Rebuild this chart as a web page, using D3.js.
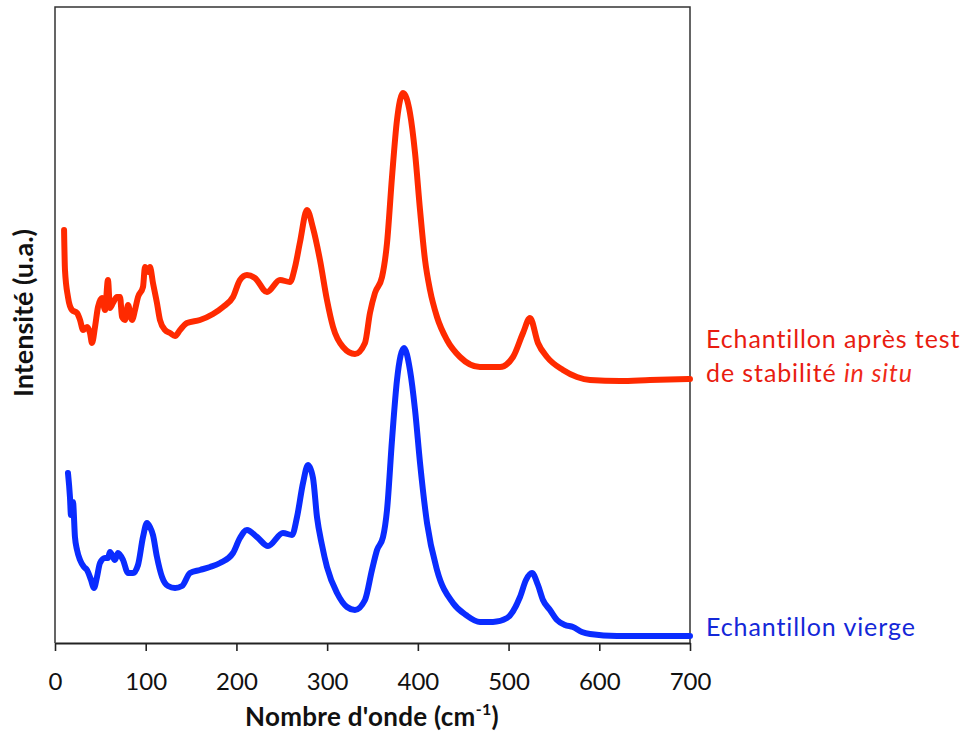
<!DOCTYPE html>
<html>
<head>
<meta charset="utf-8">
<script src="https://cdn.jsdelivr.net/npm/d3@7"></script>
<style>
  html, body { margin: 0; padding: 0; background: #fff; }
  svg { display: block; }
  text { font-family: Lato, "Open Sans", sans-serif; }
</style>
</head>
<body>
<svg id="chart" width="965" height="733"></svg>
<script>
// ---- data (wavenumber cm-1, intensity a.u.) ----
const xTicks = [0, 100, 200, 300, 400, 500, 600, 700];

const seriesRed = [
  [10,417],[11,377],[14.3,350],[18.7,337],[24.3,334],[27.6,327],[30.9,317],[35.3,320],
  [38.6,314],[40.8,304],[44.1,320],[47.4,340],[51.8,349],[55.1,337],[58.4,367],[60.6,339],
  [63.9,344],[68.3,350],[71.7,350],[73.9,330],[77.2,327],[80.5,342],[84.9,327],[88.2,337],
  [91.5,350],[97,360],[99.2,380],[102.5,375],[104.7,380],[108,364],[112.4,344],[115.7,327],
  [121.3,317],[126.8,314],[132.3,311],[137.8,317],[145.5,324],[159.8,327],[174.2,333],
  [185.2,340],[196.2,350],[203.9,367],[211.6,372],[220.4,369],[233.7,355],[248,367],
  [259,365],[264.6,380],[270.1,405],[277.8,437],[284.4,419],[292.1,387],[299.8,347],
  [306.5,320],[317.5,300],[330.7,293],[341.7,304],[347.2,334],[352.7,354],[360.5,370],
  [366,404],[371.5,470],[377,527],[383.6,554],[391.3,534],[396.9,494],[402.4,437],
  [407.9,387],[413.4,357],[421.1,330],[432.1,307],[446.5,290],[468.5,280],[490.6,280],
  [504.9,290],[515.9,314],[523.6,329],[532.4,304],[542.4,290],[560,277],[575.4,270],
  [589.8,267],[622.8,266],[655.9,267],[700,268]
];

const seriesBlue = [
  [14.3,174],[16.5,150],[17.6,132],[19.8,145],[22,110],[24.3,97],[27.6,87],[32,80],
  [35.3,77],[39.7,67],[43,59],[46.3,70],[49.6,84],[55.1,89],[58.4,89],[60.6,95],
  [66.1,87],[69.4,94],[75,87],[80.5,74],[86,74],[91.5,82],[97,110],[101.4,124],
  [104.7,120],[108,112],[112.4,90],[118,70],[124.6,61],[132.3,59],[140,61],[148.8,74],
  [159.8,77],[170.9,80],[181.9,84],[196.2,94],[203.9,109],[211.6,117],[222.7,110],
  [234.8,101],[251.3,114],[261.3,112],[266.8,130],[273.4,164],[278.9,182],[284.4,169],
  [288.8,130],[294.3,102],[299.8,80],[310.9,54],[321.9,40],[330.7,37],[341.7,47],
  [349.4,77],[355,97],[361.6,110],[366,137],[371.5,207],[377,267],[384.7,299],
  [391.3,277],[396.9,237],[402.4,184],[410.1,124],[421.1,77],[438.7,44],[453.1,32],
  [468.5,25],[482.8,25],[498.3,29],[512.6,50],[519.2,67],[525.8,74],[532.4,62],
  [537.9,47],[545.7,37],[553.4,27],[562.2,22],[571,20],[580.9,15],[589.8,13],
  [619.5,11],[655.9,11],[700,11]
];

const labelRed1 = "Echantillon après test";
const labelRed2a = "de stabilité ";
const labelRed2b = "in situ";
const labelBlue = "Echantillon vierge";
const xTitle = "Nombre d'onde (cm";
const yTitle = "Intensité (u.a.)";

// ---- drawing ----
const svg = d3.select("#chart");
const x = d3.scaleLinear().domain([0, 700]).range([55, 690]);
const y = d3.scaleLinear().domain([4, 640]).range([643, 7]);

const line = d3.line()
  .x(d => x(d[0])).y(d => y(d[1]))
  .curve(d3.curveMonotoneX);

// frame (left, top, right)
svg.append("path")
  .attr("d", `M${x(0)},${y(4)}V${y(640)}H${x(700)}V${y(4)}`)
  .attr("fill", "none").attr("stroke", "#333").attr("stroke-width", 1.5);

// bottom axis
const gx = svg.append("g")
  .attr("transform", `translate(0,${y(4)})`)
  .call(d3.axisBottom(x).tickValues(xTicks).tickSize(8).tickSizeOuter(0));
gx.select(".domain").attr("stroke", "#222").attr("stroke-width", 1.8);
gx.selectAll(".tick line").attr("stroke", "#222").attr("stroke-width", 1.6);
gx.selectAll(".tick text")
  .attr("y", 47).attr("dy", 0)
  .attr("fill", "#111")
  .style("font-size", "24px")
  .style("font-family", "Lato, sans-serif");

// curves
svg.append("path").datum(seriesRed)
  .attr("d", line).attr("fill", "none")
  .attr("stroke", "#ff2a00").attr("stroke-width", 6)
  .attr("stroke-linejoin", "round").attr("stroke-linecap", "round");

svg.append("path").datum(seriesBlue)
  .attr("d", line).attr("fill", "none")
  .attr("stroke", "#0a2cff").attr("stroke-width", 6)
  .attr("stroke-linejoin", "round").attr("stroke-linecap", "round");

// labels
svg.append("text").attr("x", 706).attr("y", 348)
  .attr("fill", "#e81c10").style("font-size", "25px").style("letter-spacing", "0.9px")
  .text(labelRed1);
const t2 = svg.append("text").attr("x", 706).attr("y", 382)
  .attr("fill", "#e81c10").style("font-size", "25px").style("letter-spacing", "0.9px");
t2.append("tspan").text(labelRed2a);
t2.append("tspan").style("font-style", "italic").attr("fill", "#f02a18").text(labelRed2b);

svg.append("text").attr("x", 706).attr("y", 636)
  .attr("fill", "#1428d8").style("font-size", "25px").style("letter-spacing", "0.9px")
  .text(labelBlue);

// axis titles
const xt = svg.append("text")
  .attr("x", 372).attr("y", 726)
  .attr("text-anchor", "middle")
  .attr("fill", "#111")
  .style("font-size", "26px").style("font-weight", "bold").style("letter-spacing", "0.3px");
xt.append("tspan").text(xTitle);
xt.append("tspan").attr("dy", -11).style("font-size", "16px").text("-1");
xt.append("tspan").attr("dy", 11).text(")");

svg.append("text")
  .attr("transform", "translate(33,313) rotate(-90)")
  .attr("text-anchor", "middle")
  .attr("fill", "#111")
  .style("font-size", "27px").style("font-weight", "bold")
  .text(yTitle);
</script>
</body>
</html>
